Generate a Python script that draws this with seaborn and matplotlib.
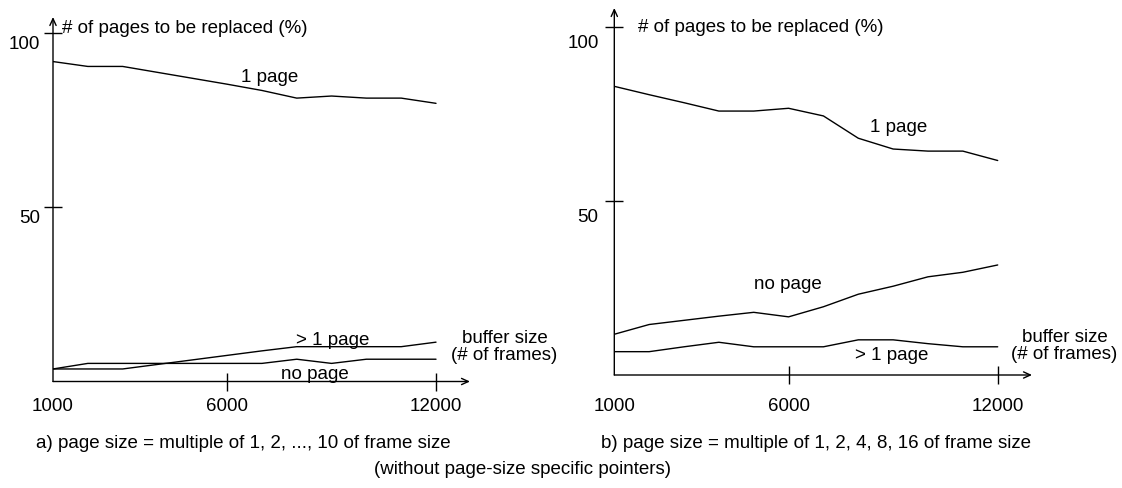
import matplotlib
matplotlib.use("Agg")
import matplotlib.pyplot as plt
import pandas as pd
import seaborn as sns
from matplotlib.transforms import ScaledTranslation

# ---- data -------------------------------------------------------------
buffer_sizes = [1000, 2000, 3000, 4000, 5000, 6000,
                7000, 8000, 9000, 10000, 11000, 12000]

# a) page size = multiple of 1, 2, ..., 10 of frame size
a_one_page = [91.9, 90.5, 90.5, 88.8, 87.1, 85.4, 83.6, 81.4, 82.0, 81.4, 81.4, 79.9]
a_more_pages = [3.6, 3.6, 3.6, 4.9, 6.2, 7.5, 8.8, 10.0, 10.0, 10.0, 10.0, 11.3]
a_no_page = [3.6, 5.2, 5.2, 5.2, 5.2, 5.2, 5.2, 6.4, 5.2, 6.4, 6.4, 6.4]

# b) page size = multiple of 1, 2, 4, 8, 16 of frame size
b_one_page = [82.9, 80.5, 78.2, 75.8, 75.8, 76.6, 74.4, 68.0, 64.9, 64.3, 64.3, 61.6]
b_no_page = [11.7, 14.5, 15.7, 16.9, 18.0, 16.7, 19.6, 23.2, 25.5, 28.2, 29.5, 31.6]
b_more_pages = [6.7, 6.7, 8.1, 9.4, 8.1, 8.1, 8.1, 10.1, 10.1, 9.0, 8.1, 8.1]

series_names = ["1 page", "> 1 page", "no page"]
x_ticks = [1000, 6000, 12000]
x_ticklabels = ["1000", "6000", "12000"]
y_ticks = [50, 100]
y_ticklabels = ["50", "100"]
y_title = "# of pages to be replaced (%)"
x_title = ["buffer size", "(# of frames)"]
caption_a = "a) page size = multiple of 1, 2, ..., 10 of frame size"
caption_b = "b) page size = multiple of 1, 2, 4, 8, 16 of frame size"
caption_common = "(without page-size specific pointers)"

# ---- style ------------------------------------------------------------
sns.set_theme(style="white")
plt.rcParams["font.family"] = ["Liberation Sans", "DejaVu Sans"]
plt.rcParams["text.color"] = "black"
plt.rcParams["xtick.color"] = "black"
plt.rcParams["ytick.color"] = "black"
FS = 13.5

W, H = 1122, 488
fig = plt.figure(figsize=(W / 100, H / 100), dpi=100)
fig.patch.set_facecolor("white")


def fx(px):
    return px / W


def fy(py):
    return 1 - py / H


def long_frame(values_by_name):
    rows = []
    for name, vals in values_by_name.items():
        for b, v in zip(buffer_sizes, vals):
            rows.append({"buffer": b, "pct": v, "kind": name})
    return pd.DataFrame(rows)


def panel(left, right, top, bottom, xmax, ymax, frame, series_labels,
          xpad, ypad, ylab_dy, ytitle_xy):
    ax = fig.add_axes([fx(left), fy(bottom), (right - left) / W, (bottom - top) / H])
    ax.set_facecolor("none")
    sns.lineplot(data=frame, x="buffer", y="pct", hue="kind",
                 palette={n: "black" for n in series_names},
                 estimator=None, legend=False, linewidth=1.0, ax=ax)
    ax.set_xlim(1000, xmax)
    ax.set_ylim(0, ymax)
    for s in ax.spines.values():
        s.set_visible(False)
    ax.set_xlabel("")
    ax.set_ylabel("")

    arrow = dict(arrowstyle="->,head_length=0.35,head_width=0.16", lw=1.0,
                 color="black", shrinkA=0, shrinkB=0, mutation_scale=14)
    ax.annotate("", xy=(0, 1), xytext=(0, 0), xycoords="axes fraction",
                arrowprops=arrow, annotation_clip=False)
    ax.annotate("", xy=(1, 0), xytext=(0, 0), xycoords="axes fraction",
                arrowprops=arrow, annotation_clip=False)

    ax.set_xticks(x_ticks)
    ax.set_xticklabels(x_ticklabels, fontsize=FS)
    ax.set_yticks(y_ticks)
    ax.set_yticklabels(y_ticklabels, fontsize=FS, va="top")
    ax.tick_params(axis="both", direction="inout", length=13.5, width=1.0,
                   color="black", labelcolor="black", left=True, bottom=True)
    ax.tick_params(axis="x", pad=xpad)
    ax.tick_params(axis="y", pad=ypad)
    ax.xaxis.get_major_ticks()[0].tick1line.set_visible(False)
    shift = ScaledTranslation(0, -ylab_dy / 100, fig.dpi_scale_trans)
    for lab in ax.get_yticklabels():
        lab.set_transform(lab.get_transform() + shift)

    for text, (x, y) in series_labels.items():
        ax.text(x, y, text, fontsize=FS, ha="center", va="center", color="black")

    fig.text(fx(ytitle_xy[0]), fy(ytitle_xy[1]), y_title, fontsize=FS,
             ha="left", va="center", color="black")
    return ax


frame_a = long_frame({"1 page": a_one_page, "> 1 page": a_more_pages,
                      "no page": a_no_page})
frame_b = long_frame({"1 page": b_one_page, "> 1 page": b_more_pages,
                      "no page": b_no_page})

panel(53, 470, 17, 381.5, 12976, 104.7, frame_a,
      {"1 page": (7232, 87.2), "> 1 page": (9041, 11.9), "no page": (8524, 2.0)},
      xpad=5.4, ypad=2.6, ylab_dy=3, ytitle_xy=(62, 28.5))

panel(614.3, 1032, 8, 375, 12984, 105.4, frame_b,
      {"1 page": (9165, 71.0), "no page": (5981, 26.1), "> 1 page": (8953, 5.7)},
      xpad=10, ypad=4.6, ylab_dy=8, ytitle_xy=(638, 27))

# axis titles for the buffer size (two stacked lines)
fig.text(fx(504.5), fy(343), x_title[0], fontsize=FS, ha="center", va="baseline")
fig.text(fx(504.5), fy(360), x_title[1], fontsize=FS, ha="center", va="baseline")
fig.text(fx(1064.5), fy(342), x_title[0], fontsize=FS, ha="center", va="baseline")
fig.text(fx(1064), fy(359), x_title[1], fontsize=FS, ha="center", va="baseline")

# captions
fig.text(fx(243.5), fy(443), caption_a, fontsize=FS, ha="center", va="center")
fig.text(fx(816), fy(443), caption_b, fontsize=FS, ha="center", va="center")
fig.text(fx(522.5), fy(470), caption_common, fontsize=FS, ha="center", va="center")

fig.savefig("out.png", dpi=100, facecolor="white")
